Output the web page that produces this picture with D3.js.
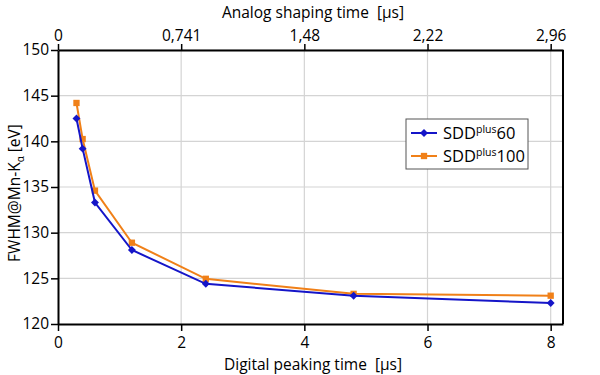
<!DOCTYPE html>
<html>
<head>
<meta charset="utf-8">
<script src="https://cdn.jsdelivr.net/npm/d3@7"></script>
<style>
  body { margin: 0; background: #fff; }
  text { font-family: "Open Sans", sans-serif; fill: #000; white-space: pre; }
</style>
</head>
<body>
<div id="chart"></div>
<script>
// peaking times in µs
const peakingTimes = [0.3, 0.4, 0.6, 1.2, 2.4, 4.8, 8];
const sdd60 = [142.5, 139.2, 133.3, 128.1, 124.4, 123.1, 122.3];
const sdd100 = [144.2, 140.25, 134.6, 128.9, 124.95, 123.3, 123.1];
const bottomTicks = [0, 2, 4, 6, 8];
const topTickLabels = ["0", "0,741", "1,48", "2,22", "2,96"];
const yTicks = [120, 125, 130, 135, 140, 145, 150];

const width = 600, height = 375;
const margin = { top: 50, right: 37, bottom: 51, left: 58 };

const svg = d3.select("#chart").append("svg")
  .attr("width", width).attr("height", height);

const x = d3.scaleLinear().domain([0, 8.2]).range([margin.left, width - margin.right]);
const y = d3.scaleLinear().domain([120, 150]).range([height - margin.bottom, margin.top]);

// grid
svg.append("g")
  .selectAll("line")
  .data(bottomTicks.slice(1))
  .join("line")
  .attr("x1", d => x(d)).attr("x2", d => x(d))
  .attr("y1", y(150)).attr("y2", y(120))
  .attr("stroke", "#d4d4d4").attr("stroke-width", 1.2);

svg.append("g")
  .selectAll("line")
  .data(yTicks.slice(1))
  .join("line")
  .attr("x1", x(0)).attr("x2", x(8.2))
  .attr("y1", d => y(d)).attr("y2", d => y(d))
  .attr("stroke", "#d4d4d4").attr("stroke-width", 1.2);

// axes
const bottomAxis = d3.axisBottom(x).tickValues(bottomTicks).tickFormat(d3.format("d")).tickSize(7).tickSizeOuter(0);
const topAxis = d3.axisTop(x).tickValues(bottomTicks).tickFormat((d, i) => topTickLabels[i]).tickSize(6).tickSizeOuter(0);
const leftAxis = d3.axisLeft(y).tickValues(yTicks).tickSize(7).tickSizeOuter(0);

function styleAxis(g) {
  g.select(".domain").attr("stroke", "#000").attr("stroke-width", 2);
  g.selectAll(".tick line").attr("stroke", "#000").attr("stroke-width", 1.5);
  g.selectAll(".tick text").style("font-size", "15.5px").attr("fill", "#000");
}

svg.append("g").attr("transform", `translate(0,${y(120)})`).call(bottomAxis).call(styleAxis)
  .selectAll(".tick text").attr("dy", "0.9em");
svg.append("g").attr("transform", `translate(0,${y(150)})`).call(topAxis).call(styleAxis);
svg.append("g").attr("transform", `translate(${x(0)},0)`).call(leftAxis).call(styleAxis)
  .selectAll(".tick text").attr("x", -9);

// right border
svg.append("line")
  .attr("x1", x(8.2)).attr("x2", x(8.2))
  .attr("y1", y(150)).attr("y2", y(120))
  .attr("stroke", "#000").attr("stroke-width", 2);

// axis titles
svg.append("text")
  .attr("x", 313).attr("y", 370)
  .attr("text-anchor", "middle")
  .style("font-size", "15.5px")
  .text("Digital peaking time  [µs]");

svg.append("text")
  .attr("x", 313).attr("y", 18)
  .attr("text-anchor", "middle")
  .style("font-size", "15.5px")
  .text("Analog shaping time  [µs]");

const yLabel = svg.append("text")
  .attr("transform", `translate(20,${(y(150) + y(120)) / 2 + 6}) rotate(-90)`)
  .attr("text-anchor", "middle")
  .style("font-size", "15.5px");
yLabel.append("tspan").text("FWHM@Mn-K");
yLabel.append("tspan").text("α").style("font-size", "10px").attr("dy", 4);
yLabel.append("tspan").text(" [eV]").attr("dy", -4);

// series
const series = [
  { name: "60", values: sdd60, color: "#1515c8", shape: d3.symbolDiamond2, size: 40 },
  { name: "100", values: sdd100, color: "#f08018", shape: d3.symbolSquare, size: 40 }
];

const line = d3.line().x((d, i) => x(peakingTimes[i])).y(d => y(d));

// draw orange first so blue sits on top where close
[series[1], series[0]].forEach(s => {
  svg.append("path")
    .datum(s.values)
    .attr("fill", "none")
    .attr("stroke", s.color)
    .attr("stroke-width", 2)
    .attr("d", line);

  svg.append("g")
    .selectAll("path")
    .data(s.values)
    .join("path")
    .attr("transform", (d, i) => `translate(${x(peakingTimes[i])},${y(d)})`)
    .attr("d", d3.symbol().type(s.shape).size(s.size))
    .attr("fill", s.color);
});

// legend
const legend = svg.append("g").attr("transform", "translate(406,119)");
legend.append("rect")
  .attr("width", 122).attr("height", 50)
  .attr("fill", "#fff").attr("stroke", "#555").attr("stroke-width", 1);

series.forEach((s, i) => {
  const row = legend.append("g").attr("transform", `translate(0,${14 + i * 23})`);
  row.append("line").attr("x1", 5).attr("x2", 31).attr("stroke", s.color).attr("stroke-width", 2);
  row.append("path")
    .attr("transform", "translate(18,0)")
    .attr("d", d3.symbol().type(s.shape).size(s.size))
    .attr("fill", s.color);
  const t = row.append("text").attr("x", 37).attr("dy", "0.38em").style("font-size", "16.5px");
  t.append("tspan").text("SDD");
  t.append("tspan").text("plus").style("font-size", "10.5px").attr("dy", -6);
  t.append("tspan").text(s.name).attr("dy", 6);
});
</script>
</body>
</html>
